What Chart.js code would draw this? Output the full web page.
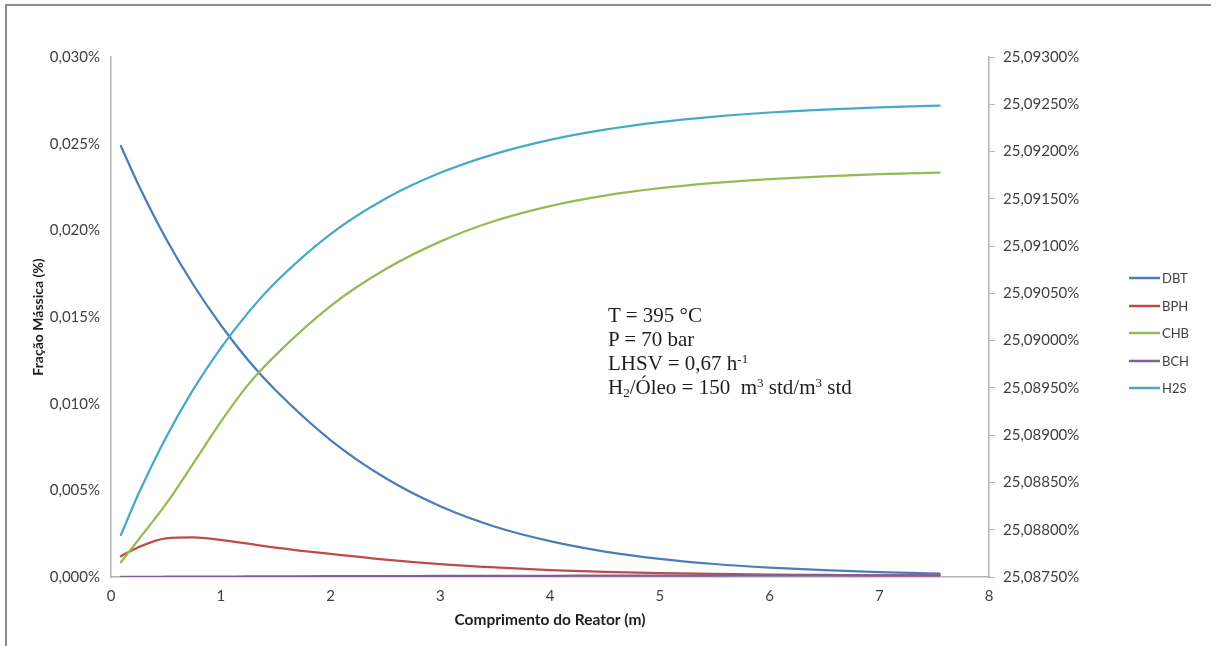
<!DOCTYPE html>
<html>
<head>
<meta charset="utf-8">
<script src="https://cdn.jsdelivr.net/npm/chart.js@4.4.1/dist/chart.umd.min.js"></script>
<style>
  html, body { margin: 0; padding: 0; background: #fff; }
  #wrap { position: relative; width: 1211px; height: 646px; overflow: hidden; }
  #frame { position: absolute; left: 5px; top: 4px; width: 1230px; height: 700px;
           border: 2px solid #8c8c8c; box-sizing: border-box; }
  canvas { position: absolute; left: 0; top: 0; }
  #note { position: absolute; left: 608px; top: 303px; color: #1e1e1e;
          font-family: "Liberation Serif", "Times New Roman", serif;
          font-size: 21px; line-height: 24px; white-space: pre; }
  #note sup, #note sub { font-size: 0.62em; line-height: 0; }
  #note sup { vertical-align: 0.55em; }
  #note sub { vertical-align: -0.25em; }
</style>
</head>
<body>
<div id="wrap">
  <div id="frame"></div>
  <canvas id="c" width="1211" height="646"></canvas>
  <div id="note">T = 395 °C
P = 70 bar
LHSV = 0,67 h<sup>-1</sup>
H<sub>2</sub>/Óleo = 150  m<sup>3</sup> std/m<sup>3</sup> std</div>
</div>
<script>
// Reactor length (m) at which the profiles were sampled
const comprimento = [0.09, 0.25, 0.5, 0.75, 1.0, 1.25, 1.5, 2.0, 2.5, 3.0, 3.5, 4.0, 4.5, 5.0, 5.5, 6.0, 6.5, 7.0, 7.55];

// Mass fractions (%) on the primary axis
const dbt = [0.02487, 0.02263, 0.01953, 0.01686, 0.01454, 0.01251, 0.01077, 0.00790, 0.00571, 0.00408, 0.00290, 0.00207, 0.00147, 0.00105, 0.00075, 0.00054, 0.00039, 0.00028, 0.00019];
const bph = [0.00120, 0.00172, 0.00223, 0.00229, 0.00214, 0.00192, 0.00170, 0.00133, 0.00100, 0.00074, 0.00055, 0.00040, 0.00030, 0.00023, 0.00018, 0.00014, 0.00012, 0.00010, 0.00009];
const chb = [0.00085, 0.00215, 0.00420, 0.00655, 0.00895, 0.01110, 0.01280, 0.01563, 0.01775, 0.01935, 0.02055, 0.02140, 0.02200, 0.02243, 0.02274, 0.02296, 0.02312, 0.02324, 0.02333];
const bch = [0.000005, 0.00001, 0.000015, 0.00002, 0.000025, 0.00003, 0.000035, 0.000045, 0.00005, 0.00006, 0.000065, 0.00007, 0.000075, 0.00008, 0.000085, 0.00009, 0.000095, 0.0001, 0.0001];

// H2S mass fraction (%) on the secondary axis
const h2s = [25.087944, 25.088377, 25.088973, 25.089484, 25.089921, 25.090296, 25.090617, 25.091127, 25.091501, 25.091775, 25.091976, 25.092124, 25.092232, 25.092312, 25.092370, 25.092413, 25.092444, 25.092467, 25.092485];

// Axis ticks
const xTicks = [0, 1, 2, 3, 4, 5, 6, 7, 8];
const yTicks = [0, 0.005, 0.010, 0.015, 0.020, 0.025, 0.030];
const y2Ticks = [25.0875, 25.0880, 25.0885, 25.0890, 25.0895, 25.0900, 25.0905, 25.0910, 25.0915, 25.0920, 25.0925, 25.0930];

const seriesNames = ['DBT', 'BPH', 'CHB', 'BCH', 'H2S'];
const seriesColors = ['#4A7EBB', '#BE4B48', '#98B954', '#7D60A0', '#46AAC5'];
const seriesValues = [dbt, bph, chb, bch, h2s];
const seriesAxis = ['y', 'y', 'y', 'y', 'y2'];

const family = 'Lato, "Open Sans", sans-serif';
const tickFont = { family, size: 15 };
const tickColor = '#404040';
const axisColor = '#b4b4b4';

const fmt = (digits) => (v) => v.toFixed(digits).replace('.', ',') + '%';
const useTicks = (list) => (scale) => { scale.ticks = list.map(v => ({ value: v })); };

const datasets = seriesNames.map((name, i) => ({
  label: name,
  data: comprimento.map((x, k) => ({ x, y: seriesValues[i][k] })),
  yAxisID: seriesAxis[i],
  borderColor: seriesColors[i],
  backgroundColor: seriesColors[i],
  borderWidth: 2.25,
  borderCapStyle: 'round',
  pointRadius: 0,
  cubicInterpolationMode: 'monotone',
  fill: false,
  order: seriesNames.length - i
}));

// Legend drawn as short line samples with their names, stacked on the right
const sideLegend = {
  id: 'sideLegend',
  afterDraw(chart) {
    const ctx = chart.ctx;
    const top = 278, gap = 27.5, x0 = 1129, x1 = 1160;
    ctx.save();
    ctx.font = '13px ' + family;
    ctx.textBaseline = 'middle';
    ctx.textAlign = 'left';
    chart.data.datasets.forEach((ds, i) => {
      const y = Math.round(top + i * gap);
      ctx.strokeStyle = ds.borderColor;
      ctx.lineWidth = 2.5;
      ctx.beginPath();
      ctx.moveTo(x0, y);
      ctx.lineTo(x1, y);
      ctx.stroke();
      ctx.fillStyle = tickColor;
      ctx.fillText(ds.label, x1 + 2, y + 0.5);
    });
    ctx.restore();
  }
};

new Chart(document.getElementById('c'), {
  type: 'line',
  data: { datasets },
  plugins: [sideLegend],
  options: {
    responsive: false,
    animation: false,
    devicePixelRatio: 1,
    layout: { padding: { left: 0, right: 0, top: 57, bottom: 0 } },
    plugins: { legend: { display: false }, tooltip: { enabled: false } },
    scales: {
      x: {
        type: 'linear', min: 0, max: 8,
        afterBuildTicks: useTicks(xTicks),
        afterFit: (s) => { s.height = 69; },
        grid: { display: false, drawTicks: false },
        border: { display: true, color: axisColor, width: 1.5 },
        ticks: { color: tickColor, font: tickFont, padding: 10, maxRotation: 0 },
        title: { display: true, text: 'Comprimento do Reator (m)', color: '#1e1e1e',
                 font: { family, size: 15.5, weight: 'bold' },
                 padding: { top: 0, bottom: 17 } }
      },
      y: {
        type: 'linear', position: 'left', min: 0, max: 0.030,
        afterBuildTicks: useTicks(yTicks),
        afterFit: (s) => { s.width = 111; },
        grid: { display: false, drawTicks: false },
        border: { display: true, color: axisColor, width: 1.5 },
        ticks: { color: tickColor, font: tickFont, padding: 11, callback: fmt(3) },
        title: { display: true, text: 'Fração Mássica (%)', color: '#1e1e1e',
                 font: { family, size: 14, weight: 'bold' },
                 padding: { top: 30, bottom: 0 } }
      },
      y2: {
        type: 'linear', position: 'right', min: 25.0875, max: 25.0930,
        afterBuildTicks: useTicks(y2Ticks),
        afterFit: (s) => { s.width = 222; },
        grid: { display: true, drawOnChartArea: false, drawTicks: true, tickLength: 6, color: axisColor, tickColor: axisColor },
        border: { display: true, color: axisColor, width: 1.5 },
        ticks: { color: tickColor, font: tickFont, padding: 8, callback: fmt(5) }
      }
    }
  }
});
</script>
</body>
</html>
